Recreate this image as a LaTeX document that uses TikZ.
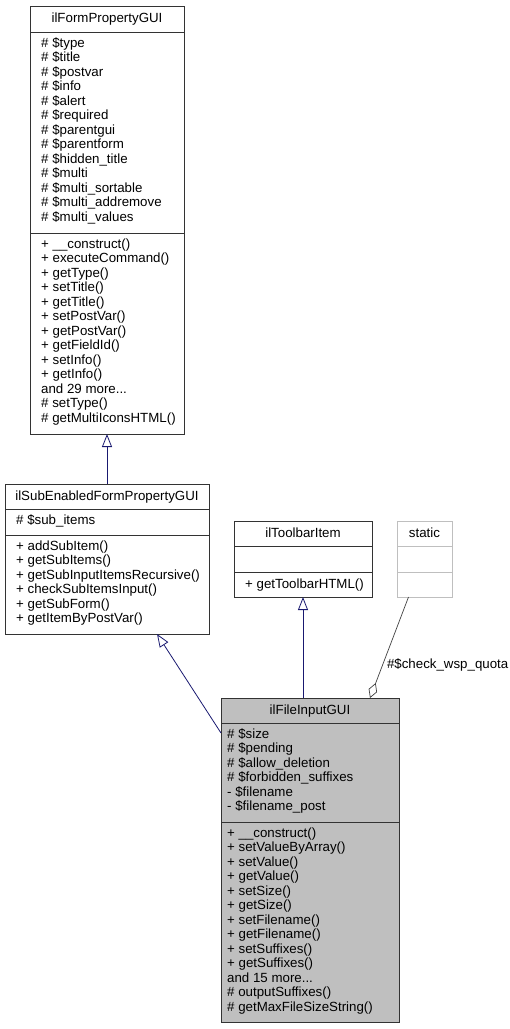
\documentclass[tikz,border=0pt]{standalone}
\usepackage{fontspec}
\setmainfont{Liberation Sans}
\usetikzlibrary{arrows.meta}
\definecolor{edgeblue}{RGB}{25,25,112}
\definecolor{edgegray}{RGB}{64,64,64}
\definecolor{boxgray}{RGB}{191,191,191}
\tikzset{
  classbox/.style={draw=black!80, line width=0.9pt, fill=white, inner sep=0pt, outer sep=0pt, anchor=north west},
  sepline/.style={draw=black!80, line width=0.9pt},
  members/.style={font=\fontsize{13.3}{14.5}\selectfont, align=left, inner sep=0pt, anchor=base west},
  classname/.style={font=\fontsize{13.3}{14.5}\selectfont, inner sep=0pt, anchor=base},
  inherit/.style={draw=edgeblue, line width=0.8pt, -{Triangle[length=13pt,width=10pt,fill=white]}},
  aggregate/.style={draw=edgegray, line width=0.7pt, -{Diamond[length=16pt,width=9pt,fill=white]}},
}
\begin{document}
\begin{tikzpicture}[x=1pt,y=-1pt]
\useasboundingbox (0,0) rectangle (510,1029);

% members are placed by the baseline of their last line
\node[classbox, minimum width=154pt, minimum height=428pt] (form) at (30,6) {};
\draw[sepline] (30,32) -- (184,32);
\draw[sepline] (30,233) -- (184,233);
\node[classname] (form-name) at (107,22) {ilFormPropertyGUI};
\node[members] (form-attr) at (41,221) {\# \$type\\\# \$title\\\# \$postvar\\\# \$info\\\# \$alert\\\# \$required\\\# \$parentgui\\\# \$parentform\\\# \$hidden\_title\\\# \$multi\\\# \$multi\_sortable\\\# \$multi\_addremove\\\# \$multi\_values};
\node[members] (form-ops) at (41,422) {+ \_\_construct()\\+ executeCommand()\\+ getType()\\+ setTitle()\\+ getTitle()\\+ setPostVar()\\+ getPostVar()\\+ getFieldId()\\+ setInfo()\\+ getInfo()\\and 29 more...\\\# setType()\\\# getMultiIconsHTML()};

\node[classbox, minimum width=204pt, minimum height=150pt] (subform) at (5,484) {};
\draw[sepline] (5,509) -- (209,509);
\draw[sepline] (5,535) -- (209,535);
\node[classname] (subform-name) at (107,500) {ilSubEnabledFormPropertyGUI};
\node[members] (subform-attr) at (16,524) {\# \$sub\_items};
\node[members] (subform-ops) at (16,622.5) {+ addSubItem()\\+ getSubItems()\\+ getSubInputItemsRecursive()\\+ checkSubItemsInput()\\+ getSubForm()\\+ getItemByPostVar()};

\node[classbox, minimum width=138pt, minimum height=76pt] (toolbar) at (234,521) {};
\draw[sepline] (234,546) -- (372,546);
\draw[sepline] (234,572) -- (372,572);
\node[classname] (toolbar-name) at (303,537) {ilToolbarItem};
\node[members] (toolbar-ops) at (245,588) {+ getToolbarHTML()};

\node[classbox, draw=boxgray, minimum width=55pt, minimum height=76pt] (static) at (397,521) {};
\draw[sepline, draw=boxgray] (397,546) -- (452,546);
\draw[sepline, draw=boxgray] (397,572) -- (452,572);
\node[classname] (static-name) at (424.5,537) {static};

\node[classbox, fill=boxgray, minimum width=178pt, minimum height=324pt] (fileinput) at (221,698) {};
\draw[sepline] (221,723) -- (399,723);
\draw[sepline] (221,822) -- (399,822);
\node[classname] (fileinput-name) at (310,714) {ilFileInputGUI};
\node[members] (fileinput-attr) at (227,810.5) {\# \$size\\\# \$pending\\\# \$allow\_deletion\\\# \$forbidden\_suffixes\\- \$filename\\- \$filename\_post};
\node[members] (fileinput-ops) at (227,1011) {+ \_\_construct()\\+ setValueByArray()\\+ setValue()\\+ getValue()\\+ setSize()\\+ getSize()\\+ setFilename()\\+ getFilename()\\+ setSuffixes()\\+ getSuffixes()\\and 15 more...\\\# outputSuffixes()\\\# getMaxFileSizeString()};

\draw[inherit] (subform.north) -- (form.south);
\draw[inherit] ([yshift=-35pt]fileinput.north west) -- ([xshift=152pt]subform.south west);
\draw[inherit] (fileinput.north -| toolbar.south) -- (toolbar.south);
\draw[aggregate] ([xshift=11.5pt]static.south west) -- node[pos=0.67, anchor=west, inner sep=0pt, xshift=4pt, font=\fontsize{13.3}{14.5}\selectfont] (quota-label) {\#\$check\_wsp\_quota} ([xshift=149pt]fileinput.north west);

\end{tikzpicture}
\end{document}
